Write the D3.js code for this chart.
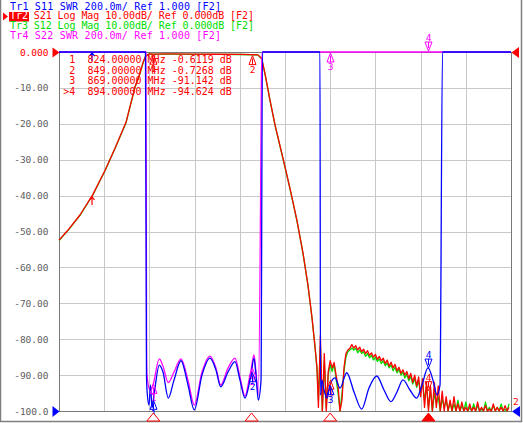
<!DOCTYPE html>
<html><head><meta charset="utf-8">
<script src="https://cdn.jsdelivr.net/npm/d3@7"></script>
<style>
html,body{margin:0;padding:0;background:#fff;}
svg{display:block;}
text{font-family:"DejaVu Sans Mono",monospace;}
</style></head><body>
<svg id="c" width="523" height="423"></svg>
<script>
// ---------- data ----------
const startMHz = 800, stopMHz = 915;
const dbTicks = [0,-10,-20,-30,-40,-50,-60,-70,-80,-90,-100];
const dbTickLabels = ["0.000","-10.00","-20.00","-30.00","-40.00","-50.00","-60.00","-70.00","-80.00","-90.00","-100.0"];

const headerNames = ["Tr1","Tr2","Tr3","Tr4"];
const headerTexts = [" S11 SWR 200.0m/ Ref 1.000 [F2]",
                     " S21 Log Mag 10.00dB/ Ref 0.000dB [F2]",
                     " S12 Log Mag 10.00dB/ Ref 0.000dB [F2]",
                     " S22 SWR 200.0m/ Ref 1.000 [F2]"];
const traceColors = ["#0000ff","#ff0000","#00dd00","#ff00ff"];

const markerIds = ["1","2","3",">4"];
const markerFreqs = [824, 849, 869, 894];
const markerVals = ["-0.6119","-0.7268","-91.142","-94.624"];

// S21 smooth part (MHz, dB)
const s21Freq = [800,802.37,805.34,808.57,811.70,814.25,817.05,819.34,820.61,821.45,822.06,822.6,823.0,824,828,834,840,846,849,850.6,851.57,852.41,853.68,854.96,857.07,858.77,860.55,862.08,863.35,864.37,865.13,865.64];
const s21Val  = [-52.4,-49.5,-45.4,-39.8,-33.0,-26.8,-19.6,-9.7,-5.9,-2.7,-1.1,-0.7,-0.5,-0.61,-0.55,-0.6,-0.62,-0.66,-0.73,-0.8,-1.8,-6,-13.4,-20.3,-30,-38,-47,-56,-65,-74,-82,-88];
// S21 noisy part, sweep from 866 MHz in 0.5 MHz steps
const noiseStart = 866, noiseStep = 0.5;
const s21Noise = [-99,-79,-100,-84,-100,-89,-86,-88,-86.5,-90,-93,-100,-97,-88,-84,-83,-82.5,-81.5,-82.5,-81.8,-83,-82.2,-83.5,-82.8,-84,-83.2,-84.5,-83.8,-85,-84.2,-85.6,-84.8,-86,-85.3,-86.8,-85.8,-87.5,-86.4,-88,-87,-88.8,-87.8,-89.5,-88.5,-90,-89,-91,-89.5,-92,-90,-93,-90.5,-96,-91,-99,-92,-100,-93,-100,-92,-99,-93,-100,-94.5,-100,-96,-100,-97,-100,-96,-100,-98,-100,-97.5,-100,-99,-100,-98,-100,-99,-100,-97.5,-100,-99,-100,-98.5,-100,-99.5,-100,-98,-100,-99,-100,-99,-100,-98.5,-100,-99];
// S12 (nearly identical to S21)
const s12Val  = [-52.5,-49.6,-45.5,-39.9,-33.1,-26.9,-19.7,-9.8,-6.0,-2.8,-1.2,-0.75,-0.55,-0.65,-0.6,-0.64,-0.66,-0.7,-0.77,-0.85,-1.9,-6.1,-13.5,-20.4,-30.1,-38.1,-47.1,-56.1,-65.1,-74.1,-82.1,-88.2];
const s12Noise = [-97,-82,-100,-86,-99,-90,-87,-89,-87,-91,-95,-100,-95,-89,-85,-83.5,-83,-82.5,-83,-82.5,-83.8,-83,-84,-83.5,-84.8,-84,-85.2,-84.5,-85.8,-85,-86.2,-85.5,-86.8,-86,-87.4,-86.6,-88,-87.2,-88.8,-87.8,-89.4,-88.4,-90,-89.2,-90.8,-89.8,-91.6,-90.4,-92.5,-91,-93.4,-91.6,-95,-92,-97,-93,-99,-94,-100,-95,-98,-96,-100,-96.5,-99,-97,-100,-97.5,-100,-98,-100,-97,-100,-98.5,-100,-97.5,-100,-99,-100,-98,-100,-98.5,-100,-99.5,-100,-97.5,-100,-99,-100,-98.5,-100,-99,-100,-98,-100,-99.5,-100,-98];

// S11 SWR (MHz, SWR); 5 = off-scale high
const s11Freq = [800,822.0,822.26,822.39,822.9,823.28,823.66,824.17,825.52,826.46,827.81,829.26,831.04,832.82,834.42,836.38,838.42,839.94,841.14,843.0,844.78,846.05,847.32,848.34,848.85,849.61,850.12,850.71,851.4,851.77,866.4,866.53,866.9,867.42,868.18,868.95,870.22,871.5,873.2,875.06,877.01,878.87,880.83,882.69,884.47,885.99,887.52,889.3,891.0,892.35,893.88,895.15,896.17,896.94,897.57,915];
const s11Val  = [5,5,1.2,1.117,1.033,1.145,1.017,1.089,1.256,1.217,1.072,1.172,1.28,1.145,1.006,1.2,1.295,1.228,1.135,1.217,1.275,1.172,1.072,1.145,1.2,1.295,1.2,1.061,1.172,5,5,1.089,1.172,1.117,1.072,1.145,1.184,1.128,1.213,1.106,1.011,1.128,1.195,1.117,1.052,1.106,1.173,1.117,1.072,1.145,1.24,1.172,1.089,1.145,5,5];
// S22 SWR
const s22Freq = [800,822.1,822.3,822.39,823.15,823.9,825.52,826.46,827.81,829.26,831.04,832.82,834.42,836.38,838.42,839.94,841.14,843.0,844.78,846.05,847.32,848.34,848.85,849.61,850.12,850.71,851.45,851.5,851.75,915];
const s22Val  = [5,5,1.284,1.2,1.117,1.145,1.29,1.25,1.158,1.217,1.29,1.172,1.033,1.217,1.306,1.239,1.145,1.239,1.295,1.189,1.083,1.172,1.228,1.312,1.217,1.089,2.71,2.87,5,5];

// ---------- drawing ----------
const svg = d3.select("#c");
const W = 523, H = 423;
const x = d3.scaleLinear().domain([startMHz, stopMHz]).range([59, 511]);
const yDb = d3.scaleLinear().domain([-100, 0]).range([411, 52]).clamp(true);
const ySwr = d3.scaleLinear().domain([1, 3]).range([411, 52]).clamp(true);
const nb = s => s.replace(/ /g, "\u00a0");

svg.append("rect").attr("width", W).attr("height", H).attr("fill", "#fff");

// outer frame
svg.append("path").attr("d", `M0.5,0 V421.5 H521.5 V0`).attr("fill", "none").attr("stroke", "#808080").attr("stroke-width", 1.5);

// grid
const grid = svg.append("g").attr("shape-rendering", "crispEdges");
const gridF = d3.range(1, 10).map(i => startMHz + i * (stopMHz - startMHz) / 10);
grid.selectAll("line.v").data(gridF).join("line")
  .attr("x1", d => Math.round(x(d)) + 0.5).attr("x2", d => Math.round(x(d)) + 0.5)
  .attr("y1", 52).attr("y2", 411).attr("stroke", "#c8c8c8");
grid.selectAll("line.h").data(dbTicks.slice(1, -1)).join("line")
  .attr("x1", 59).attr("x2", 511)
  .attr("y1", d => Math.round(yDb(d)) + 0.5).attr("y2", d => Math.round(yDb(d)) + 0.5)
  .attr("stroke", "#c8c8c8");
grid.append("path").attr("d", "M59.5,52 V411.5 H511.5 V52").attr("fill", "none").attr("stroke", "#7a7a7a");
grid.append("line").attr("x1", 59).attr("x2", 511).attr("y1", 52.5).attr("y2", 52.5).attr("stroke", "#7a7a7a");

// y axis labels
const ax = svg.append("g").attr("transform", "translate(59,0)")
  .call(d3.axisLeft(yDb).tickValues(dbTicks).tickFormat((d, i) => dbTickLabels[i]).tickSize(0).tickPadding(10.5));
ax.select(".domain").remove();
ax.selectAll("text").attr("font-family", "DejaVu Sans Mono").attr("font-size", "9.5px")
  .attr("fill", (d, i) => i === 0 ? "#ff0000" : "#606060");

// traces
const pairs = (fs, vs) => fs.map((f, i) => [f, vs[i]]);
const noisePairs = vs => vs.map((v, i) => [noiseStart + i * noiseStep, v]);
const lineDb = d3.line().x(d => x(d[0])).y(d => yDb(d[1]));
const lineSwr = d3.line().x(d => x(d[0])).y(d => ySwr(d[1])).curve(d3.curveMonotoneX);
const tr = svg.append("g").attr("fill", "none").attr("stroke-width", 1.3).attr("stroke-linejoin", "round");

tr.append("path").attr("d", lineDb(pairs(s21Freq, s12Val).concat(noisePairs(s12Noise)))).attr("stroke", traceColors[2]);
tr.append("path").attr("d", lineDb(pairs(s21Freq, s21Val).concat(noisePairs(s21Noise)))).attr("stroke", traceColors[1]);
tr.append("path").attr("d", lineSwr(pairs(s22Freq, s22Val))).attr("stroke", traceColors[3]);
tr.append("path").attr("d", lineSwr(pairs(s11Freq, s11Val))).attr("stroke", traceColors[0]);

// markers on traces
const mk = svg.append("g").attr("font-family", "DejaVu Sans Mono").attr("font-size", "9.5px");
function interp(fs, vs, f) {
  for (let i = 0; i < fs.length - 1; i++) {
    if (f >= fs[i] && f <= fs[i + 1]) return vs[i] + (vs[i + 1] - vs[i]) * (f - fs[i]) / (fs[i + 1] - fs[i]);
  }
  return vs[vs.length - 1];
}
function markerUp(px, py, label, color) {
  const g = mk.append("g").attr("stroke", color).attr("fill", "none").attr("stroke-width", 1);
  g.append("path").attr("d", `M${px},${py + 1} L${px - 3.5},${py + 10} L${px + 3.5},${py + 10} Z M${px},${py + 4} V${py + 10}`);
  mk.append("text").attr("x", px).attr("y", py + 18).attr("text-anchor", "middle").attr("fill", color).text(label);
}
function markerDown(px, py, label, color) {
  const g = mk.append("g").attr("stroke", color).attr("fill", "none").attr("stroke-width", 1);
  g.append("path").attr("d", `M${px},${py - 1} L${px - 3.5},${py - 10} L${px + 3.5},${py - 10} Z M${px},${py - 4} V${py - 10}`);
  mk.append("text").attr("x", px).attr("y", py - 11).attr("text-anchor", "middle").attr("fill", color).text(label);
}
markerFreqs.forEach((f, i) => {
  const lbl = String(i + 1);
  const px = Math.round(x(f)) + 0.5;
  const pDb = yDb(+markerVals[i]);
  const pS11 = ySwr(interp(s11Freq, s11Val, f));
  const pS22 = ySwr(interp(s22Freq, s22Val, f));
  const fn = i === 3 ? markerDown : markerUp;
  fn(px, pS22, lbl, traceColors[3]);
  fn(px, pDb, lbl, traceColors[1]);
  fn(px, pS11, lbl, traceColors[0]);
});
// small stimulus arrows
const arrowF = 808.4;
[[yDb(interp(s21Freq, s21Val, arrowF)), traceColors[1]], [52, traceColors[0]]].forEach(([py, c]) => {
  mk.append("path").attr("d", `M${x(arrowF)},${py + 1} V${py + 9} M${x(arrowF) - 2.5},${py + 4} L${x(arrowF)},${py + 1} L${x(arrowF) + 2.5},${py + 4}`)
    .attr("stroke", c).attr("fill", "none").attr("stroke-width", 1.2);
});

// bottom stimulus triangles
markerFreqs.forEach((f, i) => {
  const px = x(f);
  svg.append("path").attr("d", `M${px},413 L${px - 6.5},421 L${px + 6.5},421 Z`)
    .attr("fill", i === 3 ? "#ff0000" : "#fff").attr("stroke", "#ff0000").attr("stroke-width", 1);
});

// reference level triangles
svg.append("path").attr("d", "M52.5,47.5 L59.5,52.5 L52.5,57.5 Z").attr("fill", "#ff0000");
svg.append("path").attr("d", "M52.5,406 L59.5,411.5 L52.5,417 Z").attr("fill", "#0000ff");
svg.append("path").attr("d", "M519,47 L511.5,52.5 L519,58 Z").attr("fill", "#ff0000");
svg.append("path").attr("d", "M520,406 L512,411.5 L520,417 Z").attr("fill", "#0000ff");
svg.append("text").attr("x", 513).attr("y", 405).attr("font-size", "9.5px").attr("fill", "#ff0000").text("2");

// marker table
const tbl = svg.append("g").attr("font-size", "10px").attr("fill", "#ff0000");
markerIds.forEach((m, i) => {
  const id = m.length === 1 ? " " + m : m;
  tbl.append("text").attr("x", 63.3).attr("y", 63 + i * 10.5)
    .text(nb(`${id}  ${markerFreqs[i].toFixed(5)} MHz ${markerVals[i]} dB`));
});

// header
svg.append("rect").attr("x", 9).attr("y", 12).attr("width", 20).attr("height", 9.5).attr("fill", "#ff0000");
svg.append("path").attr("d", "M3,12.5 L8,16.5 L3,20.5 Z").attr("fill", "#ff0000");
const hd = svg.append("g").attr("font-size", "10px");
const headerWidths = [211, 244, 244, 211];
headerNames.forEach((n, i) => {
  const t = hd.append("text").attr("x", 10).attr("y", 9.5 + i * 9.7).attr("fill", traceColors[i])
    .attr("textLength", headerWidths[i]).attr("lengthAdjust", "spacing");
  t.append("tspan").attr("fill", i === 1 ? "#fff" : traceColors[i]).text(n);
  t.append("tspan").text(nb(headerTexts[i]));
});
</script></body></html>
